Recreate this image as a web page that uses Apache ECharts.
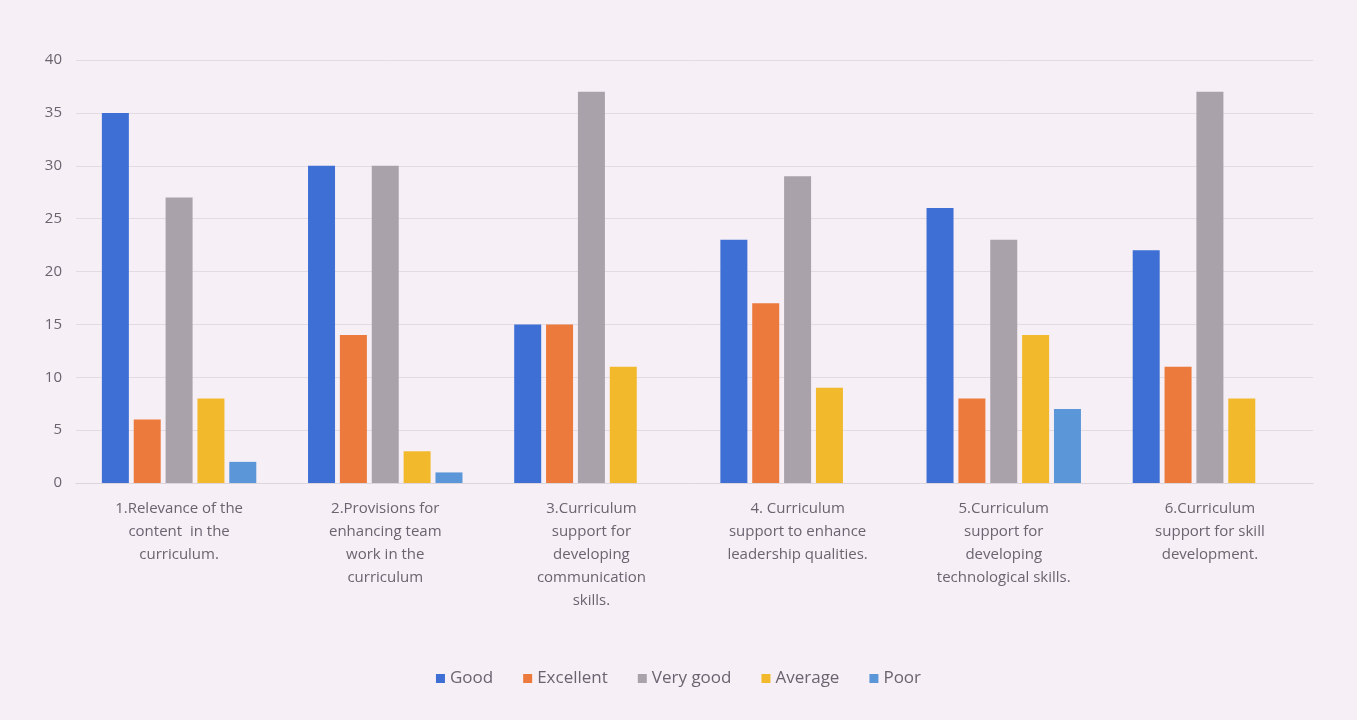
<!DOCTYPE html>
<html>
<head>
<meta charset="utf-8">
<script src="https://cdn.jsdelivr.net/npm/echarts@6/dist/echarts.min.js"></script>
<style>
html,body{margin:0;padding:0;background:#f6eff6;}
#chart{width:1357px;height:720px;}
</style>
</head>
<body>
<div id="chart"></div>
<script>
const categories = [
  "1.Relevance of the\ncontent  in the\ncurriculum.",
  "2.Provisions for\nenhancing team\nwork in the\ncurriculum",
  "3.Curriculum\nsupport for\ndeveloping\ncommunication\nskills.",
  "4. Curriculum\nsupport to enhance\nleadership qualities.",
  "5.Curriculum\nsupport for\ndeveloping\ntechnological skills.",
  "6.Curriculum\nsupport for skill\ndevelopment."
];
const seriesNames = ["Good", "Excellent", "Very good", "Average", "Poor"];
const good = [35, 30, 15, 23, 26, 22];
const excellent = [6, 14, 15, 17, 8, 11];
const veryGood = [27, 30, 37, 29, 23, 37];
const average = [8, 3, 11, 9, 14, 8];
const poor = [2, 1, 0, 0, 7, 0];
const yTicks = [0, 5, 10, 15, 20, 25, 30, 35, 40];

const colors = ["#3d6fd4", "#ec7a3c", "#aaa2aa", "#f2b92c", "#5b97d8"];
const values = [good, excellent, veryGood, average, poor];

const chart = echarts.init(document.getElementById('chart'));
chart.setOption({
  backgroundColor: '#f6eff6',
  animation: false,
  color: colors,
  grid: {left: 76, right: 44, top: 60, bottom: 237, containLabel: false},
  legend: {
    data: seriesNames,
    bottom: 28,
    left: 'center',
    itemWidth: 9, itemHeight: 9, itemGap: 30,
    icon: 'rect',
    textStyle: {color: '#6a6470', fontSize: 17, fontFamily: 'Open Sans, sans-serif'}
  },
  xAxis: {
    type: 'category',
    data: categories,
    axisLine: {show: true, lineStyle: {color: '#dcd6dc'}},
    axisTick: {show: false},
    axisLabel: {
      interval: 0, margin: 14, color: '#6a6470', fontSize: 15, lineHeight: 23,
      fontFamily: 'Open Sans, sans-serif', align: 'center'
    }
  },
  yAxis: {
    type: 'value',
    min: yTicks[0], max: yTicks[yTicks.length - 1], interval: 5,
    axisLine: {show: false},
    axisTick: {show: false},
    axisLabel: {color: '#6a6470', fontSize: 15, margin: 14, fontFamily: 'Open Sans, sans-serif'},
    splitLine: {lineStyle: {color: '#e2dce2', width: 1}}
  },
  series: seriesNames.map((n, i) => ({
    name: n,
    type: 'bar',
    data: values[i],
    barWidth: 27,
    barGap: '18%',
    itemStyle: {color: colors[i]}
  }))
});
</script>
</body>
</html>
